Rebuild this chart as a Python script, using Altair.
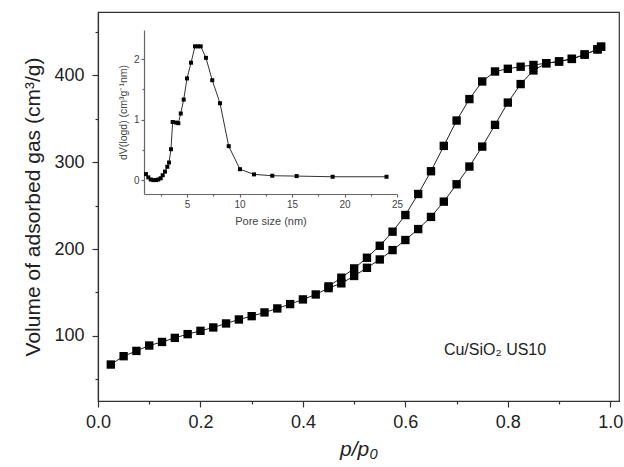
import altair as alt
import pandas as pd

# Main isotherm: adsorption branch
ads_p = [0.025, 0.05, 0.075, 0.10, 0.125, 0.15, 0.175, 0.20, 0.225, 0.25,
         0.275, 0.30, 0.325, 0.35, 0.375, 0.40, 0.425, 0.45, 0.475, 0.50,
         0.525, 0.55, 0.575, 0.60, 0.625, 0.65, 0.675, 0.70, 0.725, 0.75,
         0.775, 0.80, 0.825, 0.85, 0.875, 0.90, 0.925, 0.95, 0.975, 0.982]
ads_v = [67, 76.6, 82.7, 88.9, 93, 97.7, 102, 105.8, 109.7, 114.3,
         118.9, 122.7, 127, 131.6, 136.6, 142, 147.7, 155, 160.5, 169,
         178.4, 188, 198.8, 210.4, 223, 237, 254.6, 274.6, 295, 318,
         343, 368.7, 390, 405.7, 414, 416, 419, 424, 430, 433]
# Desorption branch
des_p = [0.982, 0.975, 0.95, 0.925, 0.90, 0.875, 0.85, 0.825, 0.80, 0.775,
         0.75, 0.725, 0.70, 0.675, 0.65, 0.625, 0.60, 0.575, 0.55, 0.525,
         0.50, 0.475, 0.45]
des_v = [433, 430, 424, 419, 416, 414, 412, 410, 407.6, 404.5,
         393, 372.7, 348, 318.8, 289.6, 263.4, 239.2, 220, 203.8, 190,
         177.7, 167, 157]

# Inset: pore size distribution
pore = [1.09, 1.31, 1.54, 1.79, 2.04, 2.26, 2.49, 2.68, 2.9, 3.12,
        3.28, 3.47, 3.63, 3.95, 4.17, 4.4, 4.68, 5.0, 5.38, 5.76,
        6.04, 6.3, 6.8, 7.4, 8.14, 8.97, 10.04, 11.38, 13.12, 15.44,
        18.87, 24.0]
dv = [0.099, 0.045, 0.01, 0, 0, 0.01, 0.03, 0.08, 0.14, 0.22,
      0.29, 0.51, 0.96, 0.95, 0.94, 1.10, 1.33, 1.68, 1.94, 2.21,
      2.21, 2.21, 2.02, 1.65, 1.27, 0.56, 0.18, 0.094, 0.072, 0.066,
      0.055, 0.055]

label_text = ["Cu/SiO₂ US10"]
label_p = [0.775]
label_v = [84]

x_ticks = [0, 0.1, 0.2, 0.3, 0.4, 0.5, 0.6, 0.7, 0.8, 0.9, 1.0]
y_ticks = [50, 100, 150, 200, 250, 300, 350, 400, 450]
ix_ticks = [2.5, 5, 7.5, 10, 12.5, 15, 17.5, 20, 22.5, 25]
iy_ticks = [0, 0.5, 1, 1.5, 2]

FONT = "Liberation Sans"

iso = pd.DataFrame({
    "p": ads_p + des_p,
    "v": ads_v + des_v,
    "branch": ["ads"] * len(ads_p) + ["des"] * len(des_p),
    "order": list(range(len(ads_p))) + list(range(len(des_p))),
})
psd = pd.DataFrame({"d": pore, "dv": dv})
lab = pd.DataFrame({"p": label_p, "v": label_v, "t": label_text})

xs = alt.Scale(domain=[0, 1.017], nice=False, zero=False)
ys = alt.Scale(domain=[25, 473], nice=False, zero=False)

x_axis = alt.Axis(
    values=x_ticks, grid=False, title="p/p₀", titleFontStyle="italic",
    titleFontWeight="normal", titleFontSize=21, titlePadding=7,
    labelFontSize=18, labelPadding=6, labelFlush=False,
    labelExpr="round(datum.value*10)%2==0 ? format(datum.value,'.1f') : ''",
    tickSize={"condition": {"test": "round(datum.value*10)%2==0", "value": 6}, "value": 3},
)
y_axis = alt.Axis(
    values=y_ticks, grid=False, title="Volume of adsorbed gas (cm³/g)",
    titleFontWeight="normal", titleFontSize=21, titlePadding=10,
    labelFontSize=18, labelPadding=8, labelFlush=False,
    labelExpr="datum.value % 100 == 0 ? format(datum.value,'d') : ''",
    tickSize={"condition": {"test": "datum.value % 100 == 0", "value": 6}, "value": 3},
)

base = alt.Chart(iso).encode(
    x=alt.X("p:Q", scale=xs, axis=x_axis),
    y=alt.Y("v:Q", scale=ys, axis=y_axis),
    detail="branch:N",
    order="order:Q",
)
main_line = base.mark_line(color="#222", strokeWidth=1)
main_pts = base.mark_square(color="#000", size=70, opacity=1, filled=True)
main_text = alt.Chart(lab).mark_text(font=FONT, fontSize=16, color="#222").encode(
    x=alt.X("p:Q", scale=xs), y=alt.Y("v:Q", scale=ys), text="t:N"
)
main = alt.layer(main_line, main_pts, main_text)

ixs = alt.Scale(domain=[0.9, 25], range=[46, 299], nice=False, zero=False)
iys = alt.Scale(domain=[-0.23, 2.48], range=[182, 18], nice=False, zero=False)

ix_axis = alt.Axis(
    orient="bottom", offset=-207, values=ix_ticks, grid=False,
    title="Pore size (nm)", titleFontWeight="normal", titleFontSize=11,
    titleColor="#444", titlePadding=6,
    labelFontSize=10, labelColor="#444", labelPadding=2, labelFlush=False,
    labelExpr="datum.value % 5 == 0 ? format(datum.value,'d') : ''",
    tickSize={"condition": {"test": "datum.value % 5 == 0", "value": 3}, "value": 2},
    domainColor="#666", tickColor="#666",
)
iy_axis = alt.Axis(
    orient="left", offset=-46, values=iy_ticks, grid=False,
    title="dV(logd) (cm³g⁻¹nm)", titleFontWeight="normal", titleFontSize=10.5,
    titleColor="#444", titlePadding=5,
    labelFontSize=10, labelColor="#444", labelPadding=2, labelFlush=False,
    labelExpr="datum.value % 1 == 0 ? format(datum.value,'d') : ''",
    tickSize={"condition": {"test": "datum.value % 1 == 0", "value": 3}, "value": 2},
    domainColor="#666", tickColor="#666",
)

ibase = alt.Chart(psd).encode(
    x=alt.X("d:Q", scale=ixs, axis=ix_axis),
    y=alt.Y("dv:Q", scale=iys, axis=iy_axis),
)
inset = alt.layer(
    ibase.mark_line(color="#333", strokeWidth=1),
    ibase.mark_square(color="#000", size=16, opacity=1, filled=True),
)

chart = alt.layer(main, inset).resolve_scale(
    x="independent", y="independent"
).properties(
    width=521, height=389, autosize="none",
    padding={"left": 98, "top": 12, "right": 5, "bottom": 66},
).configure(font=FONT).configure_view(
    stroke="#333", strokeWidth=1.2
).configure_axis(
    domainColor="#333", tickColor="#333", labelColor="#222", titleColor="#222",
    labelFont=FONT, titleFont=FONT, domainWidth=1.2, tickWidth=1.2,
)

chart.save("out.html", embed_options={"renderer": "svg", "actions": False})
